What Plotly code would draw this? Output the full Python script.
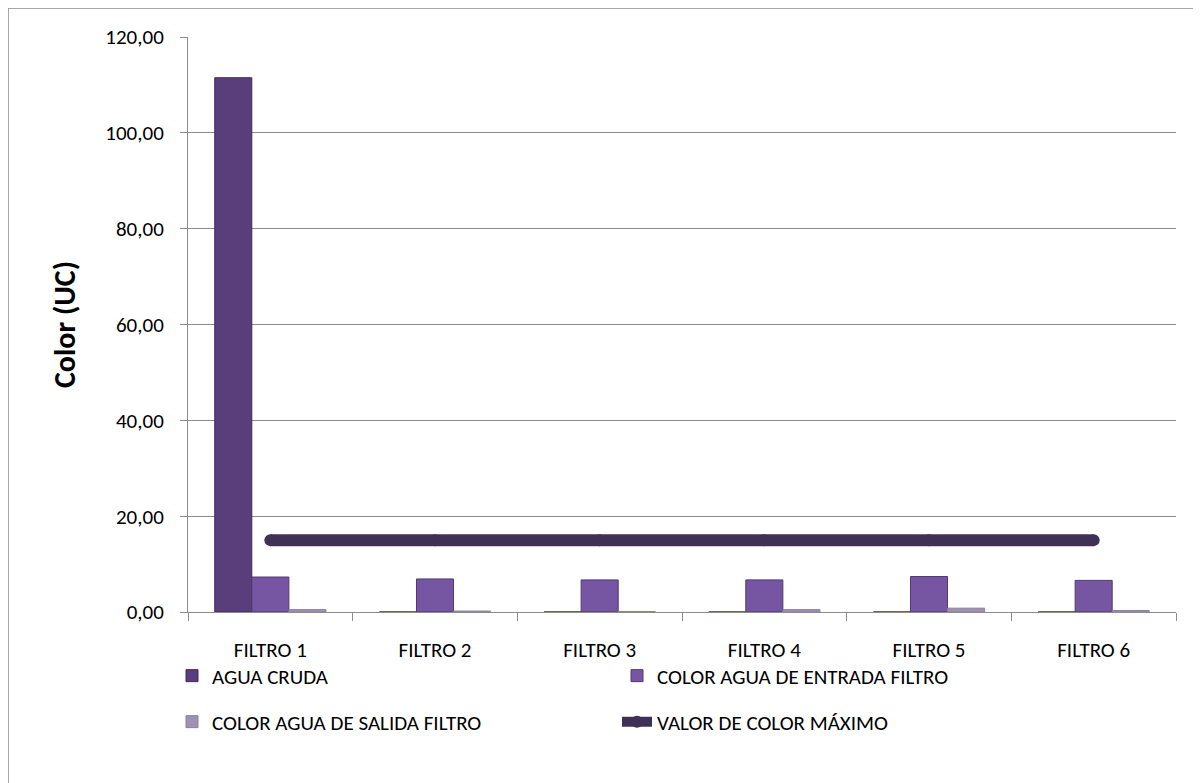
import plotly.graph_objects as go

categories = ["FILTRO 1", "FILTRO 2", "FILTRO 3", "FILTRO 4", "FILTRO 5", "FILTRO 6"]
agua_cruda = [111.5, 0, 0, 0, 0, 0]
color_entrada = [7.3, 6.9, 6.7, 6.7, 7.4, 6.6]
color_salida = [0.5, 0.2, 0.1, 0.5, 0.8, 0.3]
valor_maximo = [15, 15, 15, 15, 15, 15]

FONT = "Calibri, Carlito, Lato, sans-serif"
GRID = "#8c8c8c"

# page body has an 8px margin, so the figure is shifted by 8px
L, T, R, B = 180, 29, 33, 179
PLOT_W = 1201 - L - R
PLOT_H = 783 - T - B

fig = go.Figure()

fig.add_trace(go.Bar(
    x=categories, y=agua_cruda, name="AGUA CRUDA", legend="legend",
    marker=dict(color="#5a3e7c", line=dict(color="#3f2a5a", width=1)),
))
fig.add_trace(go.Bar(
    x=categories, y=color_entrada, name="COLOR AGUA DE ENTRADA FILTRO", legend="legend",
    marker=dict(color="#7656a2", line=dict(color="#4f3a70", width=1)),
))
fig.add_trace(go.Bar(
    x=categories, y=color_salida, name="COLOR AGUA DE SALIDA FILTRO", legend="legend2",
    marker=dict(color="#9d92b2", line=dict(color="#8a80a0", width=1)),
))
# markers of the same size as the line width give it rounded ends
fig.add_trace(go.Scatter(
    x=categories, y=valor_maximo, name="VALOR DE COLOR MÁXIMO", legend="legend2",
    mode="lines+markers", line=dict(color="#413056", width=12),
    marker=dict(color="#413056", size=12, line=dict(width=0)),
))

legend_common = dict(
    orientation="h", xanchor="left", yanchor="middle",
    entrywidth=400, entrywidthmode="pixels",
    font=dict(family=FONT, size=21, color="black"),
    traceorder="normal", bgcolor="rgba(0,0,0,0)",
)

fig.update_layout(
    width=1201, height=783,
    margin=dict(l=L, r=R, t=T, b=B),
    paper_bgcolor="white", plot_bgcolor="white",
    font=dict(family=FONT, size=21, color="black"),
    separators=",.",
    barmode="group", bargap=0.325, bargroupgap=0,
    legend=dict(x=(172 - 8 - L) / PLOT_W, y=(612 - 676) / PLOT_H, **legend_common),
    legend2=dict(x=(172 - 8 - L) / PLOT_W, y=(612 - 722) / PLOT_H, **legend_common),
    showlegend=True,
)

fig.update_yaxes(
    range=[0, 120], dtick=20, tickformat=".2f",
    showgrid=True, gridcolor=GRID, gridwidth=1,
    showline=True, linecolor=GRID, linewidth=1,
    ticks="outside", ticklen=7, tickcolor=GRID, ticklabelstandoff=12,
    zeroline=False,
    title=dict(text="<b>Color (UC)</b>", font=dict(family=FONT, size=30), standoff=20),
)
fig.update_xaxes(
    showgrid=False,
    showline=True, linecolor=GRID, linewidth=1,
    ticks="outside", ticklen=8, tickcolor=GRID, tickson="boundaries",
    ticklabelstandoff=19,
)

# outer chart border along the figure edge (cropped on the right and bottom)
fig.add_shape(
    type="rect", xref="paper", yref="paper",
    x0=-L / PLOT_W, x1=1.1, y0=-0.4, y1=1 + T / PLOT_H,
    line=dict(color="#8c8c8c", width=1.5), fillcolor="rgba(0,0,0,0)", layer="below",
)

fig.write_html("out.html")
